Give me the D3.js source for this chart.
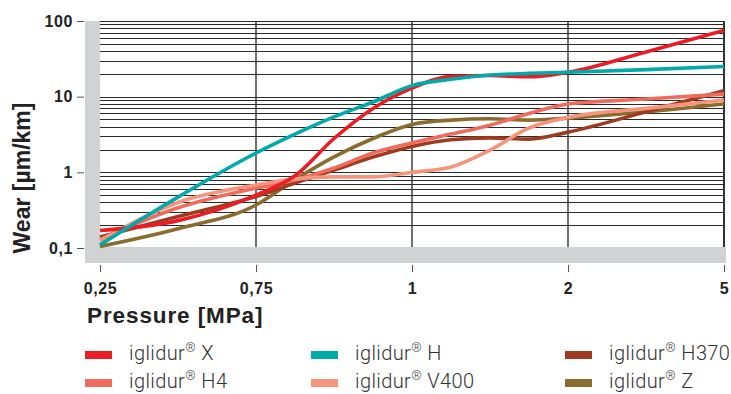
<!DOCTYPE html>
<html><head><meta charset="utf-8">
<script src="https://cdn.jsdelivr.net/npm/d3@7"></script>
<style>
html,body{margin:0;padding:0;background:#fff;}
svg{display:block;}
</style></head>
<body>
<svg id="chart" width="731" height="394"></svg>
<script>
// ---- data ----
const pressureLabels = ["0,25", "0,75", "1", "2", "5"];
const tickPositions = [0, 1, 2, 3, 4];
const positions = [0, 0.5, 1, 1.25, 1.5, 1.75, 2, 2.25, 2.5, 2.75, 3, 3.5, 4];
const wearX    = [0.17, 0.23, 0.5, 0.9, 2.8, 7.0, 13, 18.5, 19, 18.3, 21, 39, 75];
const wearH    = [0.11, 0.47, 1.8, 3.2, 5.4, 8.5, 14, 17, 19.3, 20.3, 21, 22.8, 25];
const wearH370 = [0.14, 0.26, 0.48, 0.72, 1.07, 1.59, 2.2, 2.7, 2.85, 2.75, 3.4, 6.3, 12];
const wearH4   = [0.13, 0.34, 0.62, 0.79, 1.14, 1.8, 2.45, 3.2, 4.2, 6.0, 8, 9.3, 10.8];
const wearV400 = [0.125, 0.4, 0.68, 0.82, 0.87, 0.87, 1.0, 1.18, 1.97, 3.85, 5.3, 7.0, 9.0];
const wearZ    = [0.105, 0.18, 0.37, 0.8, 1.6, 2.8, 4.3, 4.9, 5.1, 4.9, 5.2, 6.3, 8.0];
const yTickValues = [0.1, 1, 10, 100];
const yTickLabels = ["0,1", "1", "10", "100"];
const seriesNames = ["X", "H", "H370", "H4", "V400", "Z"];
const seriesColors = ["#ec1c24", "#00aaa8", "#9f3b20", "#ef6b5e", "#f6957b", "#8a6c2e"];

const seriesValues = {X: wearX, H: wearH, H370: wearH370, H4: wearH4, V400: wearV400, Z: wearZ};

// ---- layout ----
const svg = d3.select("#chart");
const x = d3.scaleLinear().domain([0, 4]).range([100, 724]);
const y = d3.scaleLog().domain([0.1, 100]).range([248, 21]);
const boldFont = "Liberation Sans, Arial, sans-serif";

// grey frame
svg.append("rect").attr("x", 85).attr("y", 21).attr("width", 15).attr("height", 242).attr("fill", "#d1d2d4");
svg.append("rect").attr("x", 85).attr("y", 247).attr("width", 641).attr("height", 16).attr("fill", "#d1d2d4");

// horizontal grid (log minor lines)
const gridVals = [];
[0.1, 1, 10].forEach(d => { for (let m = 1; m <= 9; m++) if (!(d === 0.1 && m === 1)) gridVals.push(d * m); });
gridVals.push(100);
svg.append("g").selectAll("line").data(gridVals).join("line")
  .attr("x1", 100).attr("x2", 724)
  .attr("y1", d => Math.round(y(d)) + 0.5).attr("y2", d => Math.round(y(d)) + 0.5)
  .attr("stroke", "#2a2a2a").attr("stroke-width", 1.2);

// vertical grid
svg.append("g").selectAll("line").data(tickPositions.slice(1)).join("line")
  .attr("x1", d => x(d)).attr("x2", d => x(d))
  .attr("y1", 21).attr("y2", 247)
  .attr("stroke", "#333").attr("stroke-width", d => d === 4 ? 2 : 1.4);

// y axis ticks & labels
const yAxis = d3.axisLeft(y).tickValues(yTickValues)
  .tickFormat((d, i) => yTickLabels[i]).tickSize(7).tickPadding(4);
const gy = svg.append("g").attr("transform", "translate(84,0)").call(yAxis);
gy.select(".domain").remove();
gy.selectAll(".tick line").attr("stroke", "#555").attr("stroke-width", 1);
gy.selectAll(".tick text").attr("font-family", boldFont)
  .attr("font-size", 16).attr("font-weight", "bold").attr("fill", "#222")
  .attr("letter-spacing", 0.6);

// x axis ticks & labels
const xAxis = d3.axisBottom(x).tickValues(tickPositions)
  .tickFormat((d, i) => pressureLabels[i]).tickSize(7).tickPadding(11);
const gx = svg.append("g").attr("transform", "translate(0,265)").call(xAxis);
gx.select(".domain").remove();
gx.selectAll(".tick line").attr("stroke", "#555").attr("stroke-width", 1);
gx.selectAll(".tick text").attr("font-family", boldFont)
  .attr("font-size", 16).attr("font-weight", "bold").attr("fill", "#222")
  .attr("letter-spacing", 0.6);

// axis titles
svg.append("text").attr("x", 87).attr("y", 323)
  .attr("font-family", boldFont).attr("font-size", 22.5).attr("letter-spacing", 0.9)
  .attr("font-weight", "bold").attr("fill", "#222").text("Pressure [MPa]");
svg.append("text").attr("transform", "translate(30,178) rotate(-90)").attr("text-anchor", "middle")
  .attr("font-family", boldFont).attr("font-size", 23)
  .attr("font-weight", "bold").attr("fill", "#222").text("Wear [µm/km]");

// lines
const line = d3.line().x(d => x(d[0])).y(d => y(d[1])).curve(d3.curveMonotoneX);
const drawOrder = ["Z", "H370", "H4", "V400", "X", "H"];
svg.append("g").selectAll("path").data(drawOrder).join("path")
  .attr("d", name => line(positions.map((p, i) => [p, seriesValues[name][i]])))
  .attr("fill", "none")
  .attr("stroke", name => seriesColors[seriesNames.indexOf(name)])
  .attr("stroke-width", 3.6).attr("stroke-linejoin", "round");

// legend
const legendOrder = ["X", "H", "H370", "H4", "V400", "Z"];
const colX = [85, 311, 565];
const rowY = [355, 383];
const lg = svg.append("g").selectAll("g").data(legendOrder).join("g")
  .attr("transform", (d, i) => `translate(${colX[i % 3]},${rowY[Math.floor(i / 3)]})`);
lg.append("rect").attr("x", 0).attr("y", -4).attr("width", 27).attr("height", 8)
  .attr("fill", d => seriesColors[seriesNames.indexOf(d)]);
const lt = lg.append("text").attr("x", 44).attr("y", 5)
  .attr("font-family", "Roboto, Liberation Sans, sans-serif").attr("font-weight", 300)
  .attr("font-size", 20).attr("letter-spacing", 0.4).attr("fill", "#333");
lt.append("tspan").text("iglidur");
lt.append("tspan").attr("dy", -8).attr("font-size", 13).text("®");
lt.append("tspan").attr("dy", 8).text(d => "\u00a0" + d);
</script>
</body></html>
